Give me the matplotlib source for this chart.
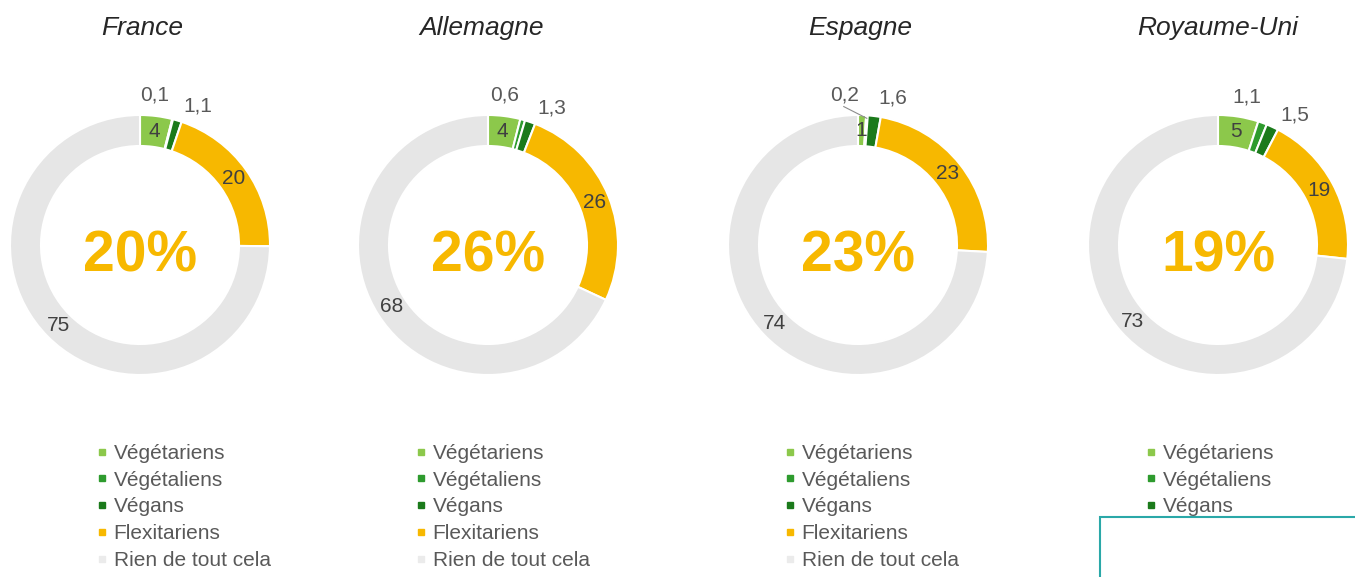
import matplotlib
matplotlib.use('Agg')
import matplotlib.pyplot as plt
from matplotlib.lines import Line2D
from matplotlib.legend import Legend
from matplotlib.patches import Rectangle
import numpy as np

plt.rcParams['font.family'] = ['Liberation Sans', 'DejaVu Sans']

# ---------------- data ----------------
countries = ['France', 'Allemagne', 'Espagne', 'Royaume-Uni']
categories = ['Végétariens', 'Végétaliens', 'Végans', 'Flexitariens', 'Rien de tout cela']
vegetariens = [4, 4, 1, 5]
vegetaliens = [0.1, 0.6, 0.2, 1.1]
vegans = [1.1, 1.3, 1.6, 1.5]
flexitariens = [20, 26, 23, 19]
rien = [75, 68, 74, 73]
center_labels = ['20%', '26%', '23%', '19%']

# ---------------- style / layout ----------------
colors = ['#8CC84B', '#2E9B2E', '#1B7A1B', '#F7B800', '#E6E6E6']
legend_marker_colors = ['#8CC84B', '#2E9B2E', '#1B7A1B', '#F7B800', '#EBEBEB']
yellow = '#F7B800'
label_color = '#404040'
W, H = 1355, 577
centers_x = [140, 488, 858, 1218]
title_x = [142, 482, 860, 1218]
legend_x = [97, 416, 785, 1146]
leaders = [False, False, True, False]
center_y = H - 245
R = 130
ring = 31

fig = plt.figure(figsize=(W / 100, H / 100), dpi=100)
ax = fig.add_axes([0, 0, 1, 1])


def fmt(v):
    return f"{v:g}".replace('.', ',')


for i, country in enumerate(countries):
    vals = [vegetariens[i], vegetaliens[i], vegans[i], flexitariens[i], rien[i]]
    cx = centers_x[i]
    wedges, _ = ax.pie(vals, colors=colors, startangle=90, counterclock=False,
                       radius=R, center=(cx, center_y), frame=True,
                       wedgeprops=dict(width=ring, edgecolor='white', linewidth=1.5))
    for j, w in enumerate(wedges):
        mid = (w.theta1 + w.theta2) / 2.0
        if j in (1, 2):
            ang = mid + (9 if j == 1 else -6)
            r = 151
            col = '#595959'
        else:
            ang = mid
            r = R - ring / 2.0
            col = label_color
        x = cx + r * np.cos(np.radians(ang))
        y = center_y + r * np.sin(np.radians(ang))
        ax.text(x, y, fmt(vals[j]), ha='center', va='center', fontsize=15, color=col)
        if j == 1 and leaders[i]:
            x0, y0 = x - 1, y - 12
            x1 = cx + (R - 3) * np.cos(np.radians(mid))
            y1 = center_y + (R - 3) * np.sin(np.radians(mid))
            ax.plot([x0, x1], [y0, y1], color='#8C8C8C', lw=0.8)

    ax.text(cx, center_y - 12, center_labels[i], ha='center', va='center',
            fontsize=41, fontweight='bold', color=yellow)
    ax.text(title_x[i], H - 28, country, ha='center', va='center',
            fontsize=19, fontstyle='italic', color='#262626')

    handles = [Line2D([], [], marker='s', ls='', color=c, markersize=5)
               for c in legend_marker_colors]
    leg = Legend(ax, handles, categories, loc='upper left',
                 bbox_to_anchor=(legend_x[i], H - 444), bbox_transform=ax.transData,
                 frameon=False, fontsize=15, labelspacing=0.37,
                 handlelength=0.5, handletextpad=0.3, borderpad=0,
                 borderaxespad=0, labelcolor='#595959')
    leg.set_zorder(5)
    ax.add_artist(leg)

box = Rectangle((1100, -5), 270, H - 517 + 5, facecolor='white',
                edgecolor='#2AA8A8', lw=1.5, zorder=10, clip_on=False)
ax.add_patch(box)

ax.set_xlim(0, W)
ax.set_ylim(0, H)
ax.set_aspect('equal')
ax.axis('off')

fig.savefig('out.png', dpi=100)
